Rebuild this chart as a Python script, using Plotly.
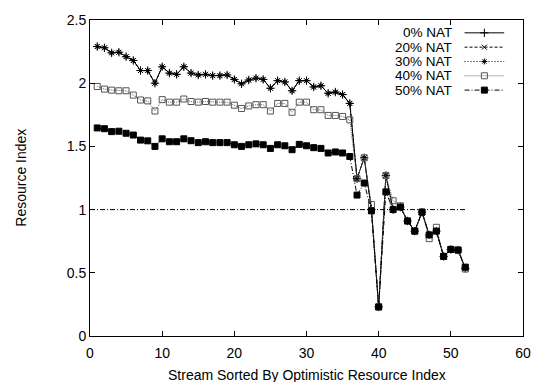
import plotly.graph_objects as go

streams = list(range(1, 53))

nat_0 = [2.29, 2.28, 2.24, 2.245, 2.21, 2.18, 2.10, 2.10, 2.00, 2.13,
         2.08, 2.07, 2.13, 2.08, 2.065, 2.07, 2.06, 2.06, 2.065, 2.03,
         1.995, 2.025, 2.04, 2.03, 1.96, 2.02, 2.01, 1.94, 2.02, 2.02,
         1.97, 1.98, 1.92, 1.93, 1.91, 1.84, 1.245, 1.41, 1.00, 0.23,
         1.27, 1.00, 1.02, 0.91, 0.83, 0.98, 0.80, 0.83, 0.63, 0.685,
         0.68, 0.535]
nat_20 = list(nat_0)
nat_30 = list(nat_0)
nat_40 = [1.974, 1.953, 1.945, 1.94, 1.94, 1.906, 1.867, 1.86, 1.78, 1.87,
          1.85, 1.85, 1.875, 1.855, 1.85, 1.855, 1.85, 1.85, 1.85, 1.826,
          1.80, 1.82, 1.83, 1.83, 1.78, 1.84, 1.84, 1.77, 1.85, 1.85,
          1.79, 1.79, 1.745, 1.745, 1.737, 1.71, 1.245, 1.41, 1.04, 0.23,
          1.27, 1.07, 1.03, 0.91, 0.83, 0.98, 0.77, 0.86, 0.63, 0.685,
          0.68, 0.53]
nat_50 = [1.646, 1.64, 1.617, 1.62, 1.604, 1.59, 1.55, 1.544, 1.50, 1.56,
          1.537, 1.537, 1.56, 1.545, 1.53, 1.537, 1.53, 1.53, 1.53, 1.513,
          1.50, 1.513, 1.52, 1.513, 1.484, 1.513, 1.505, 1.474, 1.516, 1.505,
          1.49, 1.484, 1.448, 1.456, 1.448, 1.42, 1.115, 1.21, 0.99, 0.23,
          1.14, 1.00, 1.02, 0.91, 0.83, 0.98, 0.80, 0.83, 0.63, 0.685,
          0.68, 0.545]

ref_x = [0, 52]
ref_y = [1, 1]

series_names = ["0% NAT", "20% NAT", "30% NAT", "40% NAT", "50% NAT"]
x_ticks = [0, 10, 20, 30, 40, 50, 60]
y_ticks = [0, 0.5, 1, 1.5, 2, 2.5]
y_tick_labels = ["0", "0.5", "1", "1.5", "2", "2.5"]

FONT = "Liberation Sans, Arial, Helvetica, sans-serif"
styles = [
    dict(dash="solid", color="black", symbol="cross-thin-open", size=6, mcolor="black"),
    dict(dash="3px,2px", color="black", symbol="x-thin-open", size=5, mcolor="black"),
    dict(dash="1px,2px", color="black", symbol="asterisk-open", size=5, mcolor="black"),
    dict(dash="1px,1px", color="#666666", symbol="square-open", size=6, mcolor="#555555"),
    dict(dash="5px,2px,1px,2px", color="black", symbol="square", size=6, mcolor="black"),
]
data = [nat_0, nat_20, nat_30, nat_40, nat_50]

fig = go.Figure()
for name, ys, st in zip(series_names, data, styles):
    fig.add_trace(go.Scatter(
        x=streams, y=ys, name=name, mode="lines+markers",
        line=dict(color=st["color"], width=1, dash=st["dash"]),
        marker=dict(symbol=st["symbol"], size=st["size"], color=st["mcolor"],
                    line=dict(color=st["mcolor"], width=1)),
        showlegend=False,
    ))

fig.add_trace(go.Scatter(
    x=ref_x, y=ref_y, mode="lines", showlegend=False,
    line=dict(color="black", width=1, dash="5px,2px,1px,2px"),
))

# manual gnuplot-style key (text left, sample right), in pixel-like overlay axes
key_rows = [29, 43.5, 58, 72.5, 87]
for name, st, ky in zip(series_names, styles, key_rows):
    fig.add_trace(go.Scatter(
        x=[468, 508], y=[ky, ky], mode="lines", xaxis="x2", yaxis="y2",
        line=dict(color=st["color"], width=1, dash=st["dash"]), showlegend=False,
    ))
    fig.add_trace(go.Scatter(
        x=[488], y=[ky], mode="markers", xaxis="x2", yaxis="y2",
        marker=dict(symbol=st["symbol"], size=st["size"], color=st["mcolor"],
                    line=dict(color=st["mcolor"], width=1)),
        showlegend=False,
    ))
    fig.add_annotation(x=456, y=ky, xref="x2", yref="y2", text=name,
                       showarrow=False, xanchor="right", yanchor="middle",
                       borderpad=0,
                       font=dict(size=13.5, color="black", family=FONT))

fig.add_annotation(x=0.5, y=-0.124, xref="paper", yref="paper",
                   text="Stream Sorted By Optimistic Resource Index",
                   showarrow=False, xanchor="center", yanchor="middle",
                   font=dict(size=14, color="black", family=FONT))
fig.add_annotation(x=-0.16, y=0.5, xref="paper", yref="paper",
                   text="Resource Index", textangle=-90,
                   showarrow=False, xanchor="center", yanchor="middle",
                   font=dict(size=14, color="black", family=FONT))

axis_common = dict(showline=True, linecolor="black", linewidth=1, mirror="ticks",
                   ticks="inside", ticklen=5, tickwidth=1, tickcolor="black",
                   showgrid=False, zeroline=False,
                   tickfont=dict(size=14, color="black", family=FONT))

fig.update_layout(
    width=543, height=382,
    margin=dict(l=90, r=16, t=16, b=46),
    paper_bgcolor="white", plot_bgcolor="white",
    font=dict(family=FONT, color="black"),
    showlegend=False,
    xaxis=dict(range=[0, 60], tickvals=x_ticks, ticklabelstandoff=4, **axis_common),
    yaxis=dict(range=[0, 2.5], tickvals=y_ticks, ticktext=y_tick_labels, **axis_common),
    xaxis2=dict(range=[90, 527], overlaying="x", visible=False, fixedrange=True),
    yaxis2=dict(range=[336, 16], overlaying="y", visible=False, fixedrange=True),
)

fig.write_html("out.html")
